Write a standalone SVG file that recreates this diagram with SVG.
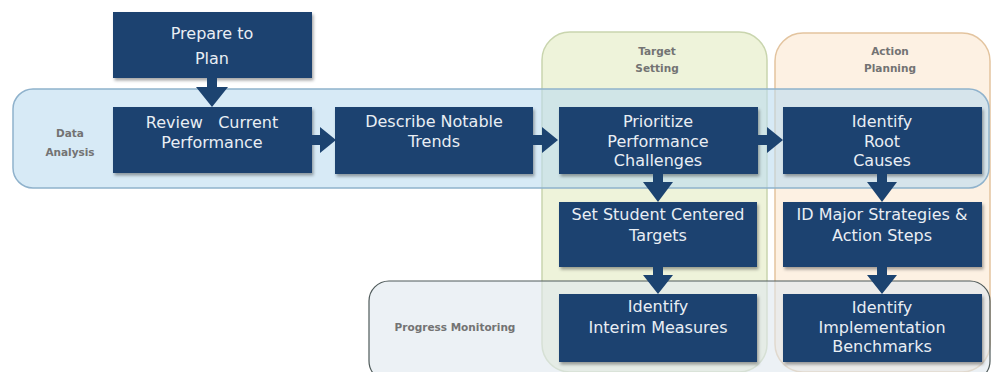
<svg xmlns="http://www.w3.org/2000/svg" width="992" height="372" viewBox="0 0 992 372">
<defs>
<filter id="sh" x="-10%" y="-10%" width="130%" height="140%">
<feDropShadow dx="1.5" dy="2.5" stdDeviation="1.5" flood-color="#000" flood-opacity="0.35"/>
</filter>
<style>
.box{fill:#1c4370;filter:url(#sh)}
.bt{font-family:"DejaVu Sans",Verdana,sans-serif;font-size:16px;fill:#e9eef4;text-anchor:middle;white-space:pre}
.rl{font-family:"DejaVu Sans",Verdana,sans-serif;font-size:10.5px;font-weight:bold;fill:#737373;text-anchor:middle}
.arr{fill:#1c4370}
</style>
</defs>
<rect width="992" height="372" fill="#fff"/>
<g id="regions">
<rect id="target-setting" x="542" y="32" width="225" height="340" rx="28" fill="#eef3da" stroke="#c9d5ae" stroke-width="1.5"/>
<rect id="action-planning" x="775" y="33" width="215" height="339" rx="28" fill="#fdf1e3" stroke="#e3c49f" stroke-width="1.5"/>
<rect id="data-analysis" x="13" y="89" width="976" height="99" rx="20" fill="#bcdcf0" fill-opacity="0.6" stroke="#8fb2cc" stroke-width="1.5"/>
<rect id="progress-monitoring" x="369" y="281" width="621" height="100" rx="20" fill="#dfe8ee" fill-opacity="0.6" stroke="#4f5a5a" stroke-width="1.2"/>
<text class="rl" x="70" y="137">Data</text>
<text class="rl" x="70" y="156">Analysis</text>
<text class="rl" x="657" y="55">Target</text>
<text class="rl" x="657" y="72">Setting</text>
<text class="rl" x="890" y="55">Action</text>
<text class="rl" x="890" y="72">Planning</text>
<text class="rl" x="455" y="331">Progress Monitoring</text>
</g>
<g id="n-prepare"><rect class="box" x="113" y="12" width="199" height="66"/><text class="bt" x="212" y="39">Prepare to</text><text class="bt" x="212" y="64">Plan</text></g>
<g id="n-review"><rect class="box" x="113" y="107" width="199" height="66"/><text class="bt" x="212" y="128" xml:space="preserve">Review   Current</text><text class="bt" x="212" y="148">Performance</text></g>
<g id="n-describe"><rect class="box" x="335" y="107" width="198" height="67"/><text class="bt" x="434" y="127">Describe Notable</text><text class="bt" x="434" y="147">Trends</text></g>
<g id="n-prioritize"><rect class="box" x="559" y="107" width="199" height="67"/><text class="bt" x="658" y="127">Prioritize</text><text class="bt" x="658" y="147">Performance</text><text class="bt" x="658" y="166">Challenges</text></g>
<g id="n-root"><rect class="box" x="783" y="107" width="199" height="67"/><text class="bt" x="882" y="127">Identify</text><text class="bt" x="882" y="147">Root</text><text class="bt" x="882" y="166">Causes</text></g>
<g id="n-targets"><rect class="box" x="559" y="202" width="198" height="65"/><text class="bt" x="658" y="220">Set Student Centered</text><text class="bt" x="658" y="241">Targets</text></g>
<g id="n-strategies"><rect class="box" x="783" y="202" width="199" height="65"/><text class="bt" x="882" y="220">ID Major Strategies &amp;</text><text class="bt" x="882" y="241">Action Steps</text></g>
<g id="n-interim"><rect class="box" x="559" y="294" width="198" height="68"/><text class="bt" x="658" y="312">Identify</text><text class="bt" x="658" y="333">Interim Measures</text></g>
<g id="n-benchmarks"><rect class="box" x="783" y="294" width="199" height="68"/><text class="bt" x="882" y="313">Identify</text><text class="bt" x="882" y="333">Implementation</text><text class="bt" x="882" y="352">Benchmarks</text></g>
<g id="connectors">
<polygon class="arr" points="207,78 217,78 217,87 228,87 212,107 196,87 207,87"/>
<polygon class="arr" points="312,135 320,135 320,127 336,140 320,153 320,145 312,145"/>
<polygon class="arr" points="533,135 542,135 542,127 558,140 542,153 542,145 533,145"/>
<polygon class="arr" points="758,135 767,135 767,127 783,140 767,153 767,145 758,145"/>
<polygon class="arr" points="653,174 663,174 663,182 673,182 658,202 643,182 653,182"/>
<polygon class="arr" points="877,174 887,174 887,182 897,182 882,202 867,182 877,182"/>
<polygon class="arr" points="653,267 663,267 663,275 673,275 658,294 643,275 653,275"/>
<polygon class="arr" points="877,267 887,267 887,275 897,275 882,294 867,275 877,275"/>
</g>
</svg>
